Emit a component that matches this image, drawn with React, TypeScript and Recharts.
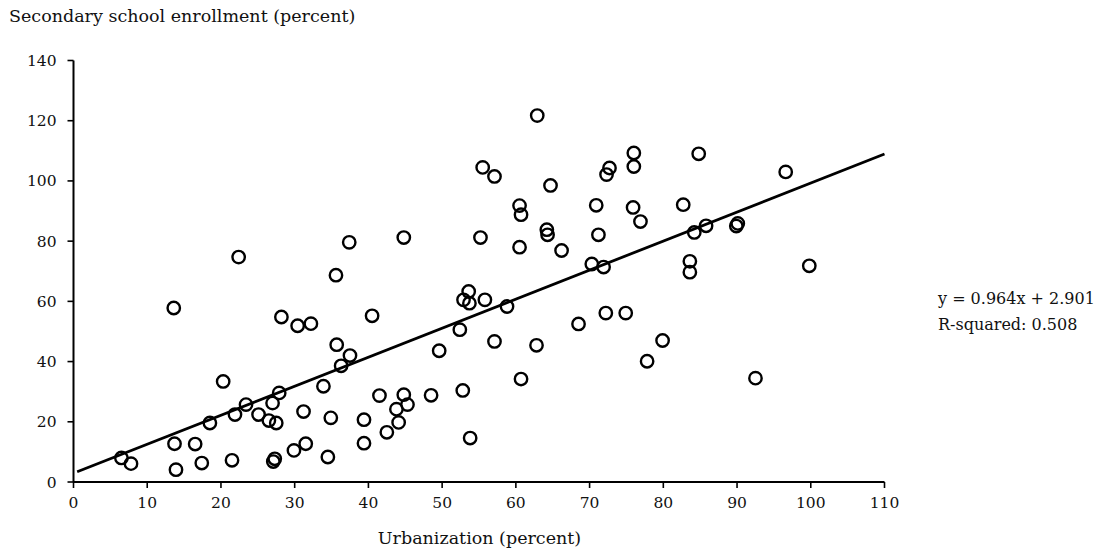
import { ScatterChart, Scatter, XAxis, YAxis, ReferenceLine } from "recharts";

const FONT = "'DejaVu Serif', serif";

// urbanization (percent), one entry per country
const urbanization = [
  6.5, 7.8, 13.6, 13.7, 13.9, 16.5, 17.4, 18.5, 20.3, 21.5, 21.9, 22.4, 23.4, 25.1, 26.5, 27.0,
  27.5, 27.9, 27.1, 27.3, 28.2, 29.9, 30.4, 31.2, 31.5, 32.2, 33.9, 34.5, 34.9, 35.6, 35.7, 36.3,
  37.4, 37.5, 40.5, 39.4, 39.4, 41.5, 42.5, 43.8, 44.1, 44.8, 45.3, 44.8, 48.5, 49.6, 52.4, 52.8,
  52.9, 53.6, 53.7, 53.8, 55.2, 55.5, 55.8, 57.1, 57.1, 58.8, 60.5, 60.7, 60.5, 60.7, 62.9, 62.8,
  64.2, 64.3, 64.7, 66.2, 68.5, 70.3, 70.9, 71.2, 71.9, 72.2, 72.3, 72.7, 74.9, 76.0, 76.0, 75.9,
  76.9, 77.8, 79.9, 82.7, 84.8, 83.6, 83.6, 84.2, 85.8, 89.9, 90.1, 92.5, 96.6, 99.8,
];

// secondary school enrollment (percent), same order
const enrollment = [
  8.0, 6.1, 57.8, 12.7, 4.1, 12.6, 6.3, 19.6, 33.4, 7.2, 22.4, 74.7, 25.7, 22.4, 20.4, 26.2,
  19.6, 29.6, 6.8, 7.7, 54.8, 10.5, 51.9, 23.4, 12.7, 52.6, 31.8, 8.3, 21.3, 68.7, 45.6, 38.6,
  79.6, 42.0, 55.2, 20.7, 12.9, 28.7, 16.5, 24.2, 19.8, 29.0, 25.7, 81.2, 28.8, 43.6, 50.6, 30.4,
  60.5, 63.3, 59.4, 14.6, 81.2, 104.5, 60.5, 46.7, 101.5, 58.3, 91.8, 88.8, 78.0, 34.2, 121.7, 45.4,
  83.8, 82.1, 98.5, 76.9, 52.5, 72.4, 91.9, 82.1, 71.4, 56.1, 102.1, 104.3, 56.1, 109.3, 104.8, 91.2,
  86.5, 40.1, 47.0, 92.1, 109.0, 73.3, 69.7, 82.9, 85.1, 85.0, 85.9, 34.5, 103.0, 71.8,
];

const xTicks = [0, 10, 20, 30, 40, 50, 60, 70, 80, 90, 100, 110];
const yTicks = [0, 20, 40, 60, 80, 100, 120, 140];

const fitSlope = 0.964;
const fitIntercept = 2.901;
const fitRange = [0.5, 110];

const points = urbanization.map((x, i) => ({ x, y: enrollment[i] }));
const fitLine = fitRange.map((x) => ({ x, y: fitSlope * x + fitIntercept }));

const Ring = (props: any) => (
  <circle cx={props.cx} cy={props.cy} r={6.2} fill="none" stroke="#000" strokeWidth={2.4} />
);

const tickStyle = { fill: "#111", fontSize: 15.5, fontFamily: FONT };

export default function App() {
  return (
    <div style={{ position: "absolute", left: 0, top: 0, width: 1099, height: 552, background: "#fff" }}>
      <div style={{ position: "absolute", left: 9, top: 6, fontFamily: FONT, fontSize: 17.5, color: "#111", whiteSpace: "nowrap" }}>
        Secondary school enrollment (percent)
      </div>
      <ScatterChart width={1099} height={552} margin={{ top: 60.5, right: 214.5, bottom: 40, left: 13.5 }}>
        <XAxis
          type="number"
          dataKey="x"
          domain={[0, 110]}
          ticks={xTicks}
          interval={0}
          tick={tickStyle}
          tickSize={6}
          tickMargin={9}
          height={30}
          axisLine={{ stroke: "#000", strokeWidth: 2 }}
          tickLine={{ stroke: "#000", strokeWidth: 1.6 }}
        />
        <YAxis
          type="number"
          dataKey="y"
          domain={[0, 140]}
          ticks={yTicks}
          interval={0}
          tick={tickStyle}
          tickSize={6}
          tickMargin={11}
          width={60}
          axisLine={{ stroke: "#000", strokeWidth: 2 }}
          tickLine={{ stroke: "#000", strokeWidth: 1.6 }}
        />
        <ReferenceLine
          segment={[fitLine[0], fitLine[1]]}
          stroke="#000"
          strokeWidth={2.8}
          ifOverflow="visible"
        />
        <Scatter data={points} shape={Ring} isAnimationActive={false} />
      </ScatterChart>
      <div style={{ position: "absolute", left: 938, top: 286, fontFamily: FONT, fontSize: 16, lineHeight: "26px", color: "#111", whiteSpace: "nowrap" }}>
        <div>y = 0.964x + 2.901</div>
        <div>R-squared: 0.508</div>
      </div>
      <div style={{ position: "absolute", left: 0, width: 959, top: 528, textAlign: "center", fontFamily: FONT, fontSize: 17.5, color: "#111", whiteSpace: "nowrap" }}>
        Urbanization (percent)
      </div>
    </div>
  );
}
